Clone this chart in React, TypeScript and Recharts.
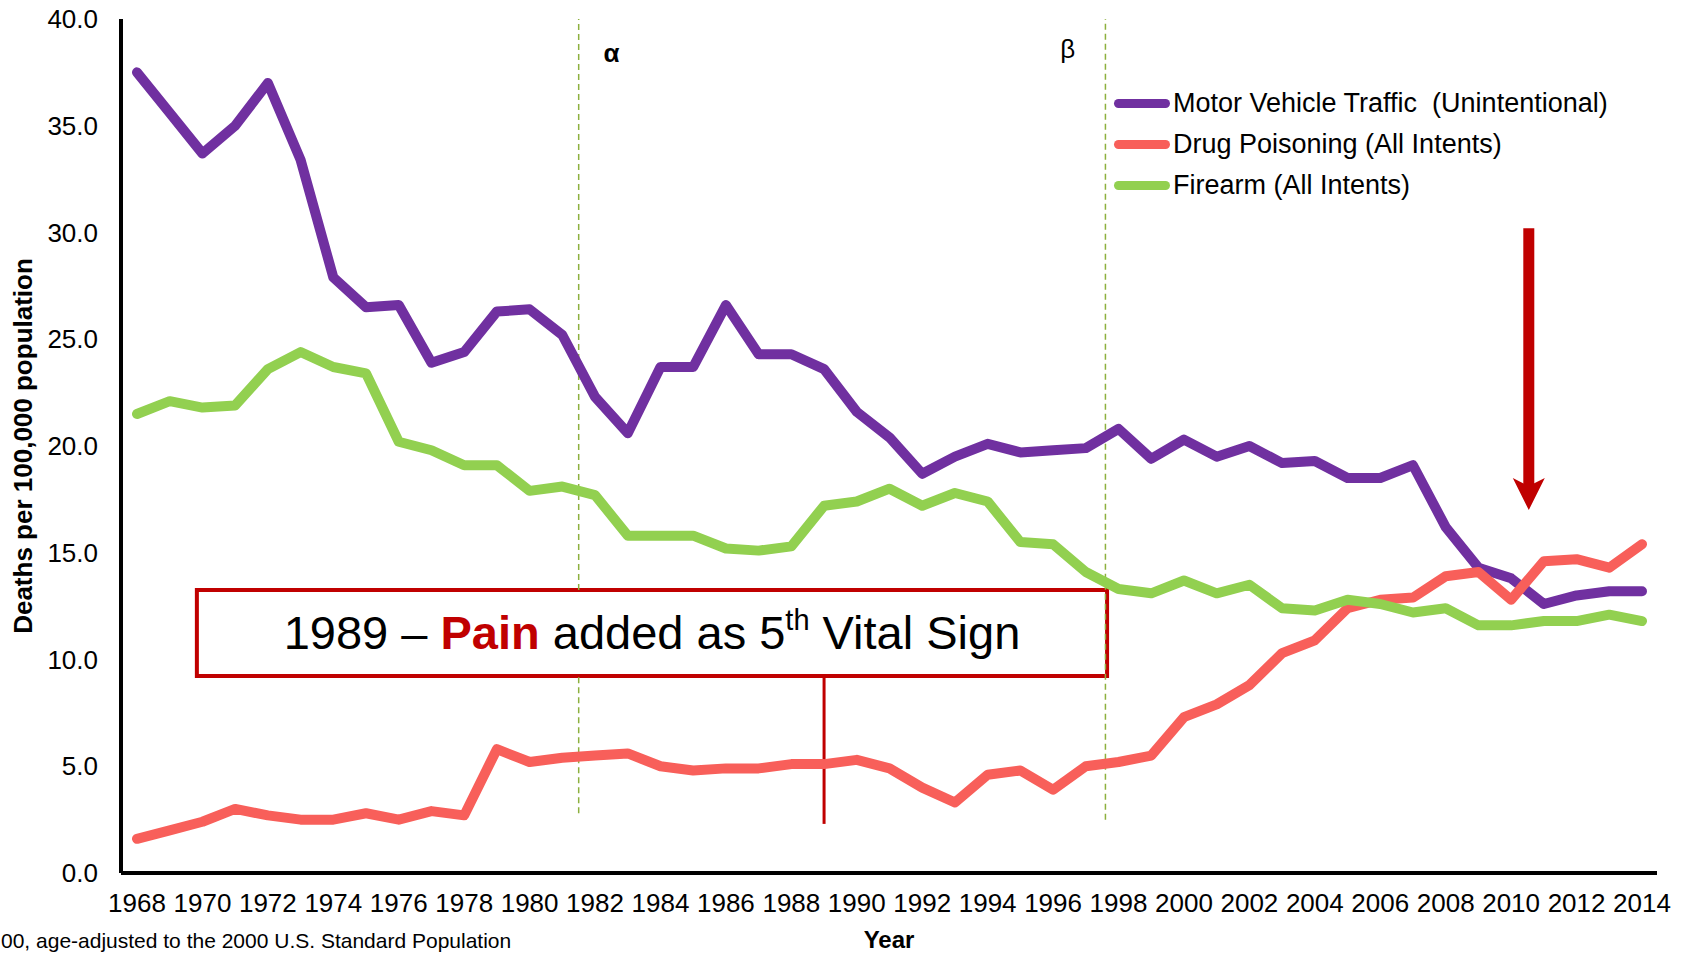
import React from 'react';
import {
  LineChart,
  Line,
  XAxis,
  YAxis,
  Legend,
  ReferenceLine,
  ReferenceArea,
  ReferenceDot,
} from 'recharts';

const years = [
  1968, 1969, 1970, 1971, 1972, 1973, 1974, 1975, 1976, 1977,
  1978, 1979, 1980, 1981, 1982, 1983, 1984, 1985, 1986, 1987,
  1988, 1989, 1990, 1991, 1992, 1993, 1994, 1995, 1996, 1997,
  1998, 1999, 2000, 2001, 2002, 2003, 2004, 2005, 2006, 2007,
  2008, 2009, 2010, 2011, 2012, 2013, 2014,
];

const motorVehicle = [
  37.5, 35.6, 33.7, 35.0, 37.0, 33.4, 27.9, 26.5, 26.6, 23.9,
  24.4, 26.3, 26.4, 25.2, 22.3, 20.6, 23.7, 23.7, 26.6, 24.3,
  24.3, 23.6, 21.6, 20.4, 18.7, 19.5, 20.1, 19.7, 19.8, 19.9,
  20.8, 19.4, 20.3, 19.5, 20.0, 19.2, 19.3, 18.5, 18.5, 19.1,
  16.2, 14.3, 13.8, 12.6, 13.0, 13.2, 13.2,
];

const drugPoisoning = [
  1.6, 2.0, 2.4, 3.0, 2.7, 2.5, 2.5, 2.8, 2.5, 2.9,
  2.7, 5.8, 5.2, 5.4, 5.5, 5.6, 5.0, 4.8, 4.9, 4.9,
  5.1, 5.1, 5.3, 4.9, 4.0, 3.3, 4.6, 4.8, 3.9, 5.0,
  5.2, 5.5, 7.3, 7.9, 8.8, 10.3, 10.9, 12.4, 12.8, 12.9,
  13.9, 14.1, 12.8, 14.6, 14.7, 14.3, 15.4,
];

const firearm = [
  21.5, 22.1, 21.8, 21.9, 23.6, 24.4, 23.7, 23.4, 20.2, 19.8,
  19.1, 19.1, 17.9, 18.1, 17.7, 15.8, 15.8, 15.8, 15.2, 15.1,
  15.3, 17.2, 17.4, 18.0, 17.2, 17.8, 17.4, 15.5, 15.4, 14.1,
  13.3, 13.1, 13.7, 13.1, 13.5, 12.4, 12.3, 12.8, 12.6, 12.2,
  12.4, 11.6, 11.6, 11.8, 11.8, 12.1, 11.8,
];

const xTicks = [
  1968, 1970, 1972, 1974, 1976, 1978, 1980, 1982, 1984, 1986, 1988, 1990,
  1992, 1994, 1996, 1998, 2000, 2002, 2004, 2006, 2008, 2010, 2012, 2014,
];
const yTicks = [0, 5, 10, 15, 20, 25, 30, 35, 40];

const seriesNames = [
  'Motor Vehicle Traffic  (Unintentional)',
  'Drug Poisoning (All Intents)',
  'Firearm (All Intents)',
];
const seriesColors = ['#7030A0', '#F85F5A', '#92D050'];

const data = years.map((year, i) => ({
  year,
  motor: motorVehicle[i],
  drug: drugPoisoning[i],
  firearm: firearm[i],
}));

const FONT = '"Liberation Sans", Arial, sans-serif';
const DARK_RED = '#C00000';
const DASH_GREEN = '#8DB03E';

const BoxText = (props: any) => {
  const { viewBox } = props;
  const cx = viewBox.x + viewBox.width / 2;
  const cy = viewBox.y + viewBox.height / 2;
  return (
    <text
      x={cx}
      y={cy + 16}
      textAnchor="middle"
      fontFamily={FONT}
      fontSize={47}
      fill="#000"
    >
      <tspan>1989 – </tspan>
      <tspan fill={DARK_RED} fontWeight="bold">Pain</tspan>
      <tspan> added as 5</tspan>
      <tspan fontSize={29} dy={-19}>th</tspan>
      <tspan dy={19}> Vital Sign</tspan>
    </text>
  );
};

const ArrowHead = (props: any) => {
  const { cx, cy } = props;
  return (
    <polygon
      points={`${cx},${cy} ${cx - 16},${cy - 32} ${cx},${cy - 24} ${cx + 16},${cy - 32}`}
      fill={DARK_RED}
    />
  );
};

// keep the legend in the original series order
const LegendBox = () => (
  <div style={{ fontFamily: FONT, fontSize: 27 }}>
    {seriesNames.map((name, i) => (
      <div
        key={name}
        style={{ display: 'flex', alignItems: 'center', height: 41, whiteSpace: 'pre' }}
      >
        <span
          style={{
            display: 'inline-block',
            width: 56,
            height: 9,
            borderRadius: 5,
            background: seriesColors[i],
            marginRight: 3,
          }}
        />
        <span style={{ color: '#000' }}>{name}</span>
      </div>
    ))}
  </div>
);

const App: React.FC = () => {
  return (
    <div style={{ position: 'relative', width: 1687, height: 954, overflow: 'hidden', background: '#fff' }}>
      <style>{'body { margin: 0; }'}</style>
      <LineChart
        width={1687}
        height={954}
        data={data}
        margin={{ top: 19, right: 30, bottom: 0, left: 0 }}
      >
        <XAxis
          dataKey="year"
          type="number"
          domain={[1968, 2014]}
          ticks={xTicks}
          interval={0}
          padding={{ left: 16, right: 15 }}
          height={81}
          tickLine={false}
          tickSize={0}
          tickMargin={21}
          axisLine={{ stroke: '#000', strokeWidth: 4 }}
          tick={{ fill: '#000', fontSize: 26, fontFamily: FONT }}
          label={{
            value: 'Year',
            position: 'center',
            dy: 26,
            fill: '#000',
            fontSize: 24,
            fontWeight: 'bold',
            fontFamily: FONT,
          }}
        />
        <XAxis
          xAxisId="top"
          orientation="top"
          dataKey="year"
          type="number"
          domain={[1968, 2014]}
          height={0}
          tick={false}
          tickLine={false}
          axisLine={{ stroke: '#000', strokeWidth: 4 }}
        />
        <YAxis
          type="number"
          domain={[0, 40]}
          ticks={yTicks}
          interval={0}
          width={121}
          tickLine={false}
          tickSize={0}
          tickMargin={23}
          tickFormatter={(v: number) => v.toFixed(1)}
          axisLine={{ stroke: '#000', strokeWidth: 4 }}
          tick={{ fill: '#000', fontSize: 26, fontFamily: FONT }}
          label={{
            value: 'Deaths per 100,000 population',
            angle: -90,
            position: 'center',
            dx: -38,
            fill: '#000',
            fontSize: 26,
            fontWeight: 'bold',
            fontFamily: FONT,
          }}
        />
        <YAxis
          yAxisId="right"
          orientation="right"
          domain={[0, 40]}
          width={0}
          tick={false}
          tickLine={false}
          axisLine={{ stroke: '#000', strokeWidth: 4 }}
        />

        {/* alpha line is hidden behind the annotation box */}
        <ReferenceLine
          segment={[{ x: 1981.5, y: 2.8 }, { x: 1981.5, y: 9.23 }]}
          stroke={DASH_GREEN}
          strokeWidth={1.5}
          strokeDasharray="6 4"
        />
        <ReferenceLine
          segment={[{ x: 1981.5, y: 13.26 }, { x: 1981.5, y: 40 }]}
          stroke={DASH_GREEN}
          strokeWidth={1.5}
          strokeDasharray="6 4"
        />
        <ReferenceLine
          segment={[{ x: 1997.6, y: 2.5 }, { x: 1997.6, y: 40 }]}
          stroke={DASH_GREEN}
          strokeWidth={1.5}
          strokeDasharray="6 4"
        />
        <ReferenceDot
          x={1982.5}
          y={38.4}
          r={0}
          stroke="none"
          label={{ value: 'α', position: 'center', fill: '#000', fontSize: 26, fontWeight: 'bold', fontFamily: FONT }}
        />
        <ReferenceDot
          x={1996.45}
          y={38.6}
          r={0}
          stroke="none"
          label={{ value: 'β', position: 'center', fill: '#000', fontSize: 26, fontFamily: FONT }}
        />

        <ReferenceLine
          segment={[{ x: 1989, y: 2.3 }, { x: 1989, y: 9.23 }]}
          stroke={DARK_RED}
          strokeWidth={3}
        />
        <ReferenceArea
          x1={1969.83}
          x2={1997.65}
          y1={9.23}
          y2={13.26}
          fill="#fff"
          fillOpacity={1}
          stroke={DARK_RED}
          strokeWidth={4}
          label={<BoxText />}
        />

        <ReferenceLine
          segment={[{ x: 2010.54, y: 30.2 }, { x: 2010.54, y: 17.9 }]}
          stroke={DARK_RED}
          strokeWidth={11}
        />
        <ReferenceDot x={2010.54} y={17.0} r={1} shape={<ArrowHead />} />

        <Line
          type="linear"
          dataKey="motor"
          name={seriesNames[0]}
          stroke={seriesColors[0]}
          strokeWidth={10}
          strokeLinecap="round"
          strokeLinejoin="round"
          dot={false}
          isAnimationActive={false}
        />
        <Line
          type="linear"
          dataKey="drug"
          name={seriesNames[1]}
          stroke={seriesColors[1]}
          strokeWidth={10}
          strokeLinecap="round"
          strokeLinejoin="round"
          dot={false}
          isAnimationActive={false}
        />
        <Line
          type="linear"
          dataKey="firearm"
          name={seriesNames[2]}
          stroke={seriesColors[2]}
          strokeWidth={10}
          strokeLinecap="round"
          strokeLinejoin="round"
          dot={false}
          isAnimationActive={false}
        />
        <Legend
          layout="vertical"
          align="center"
          verticalAlign="middle"
          content={<LegendBox />}
          wrapperStyle={{ top: 83, left: 1114, width: 560, height: 130 }}
        />
      </LineChart>
      <div
        style={{
          position: 'absolute',
          left: 1,
          top: 929,
          fontFamily: FONT,
          fontSize: 21,
          lineHeight: '24px',
          color: '#000',
          whiteSpace: 'nowrap',
        }}
      >
        00, age-adjusted to the 2000 U.S. Standard Population
      </div>
    </div>
  );
};

export default App;
